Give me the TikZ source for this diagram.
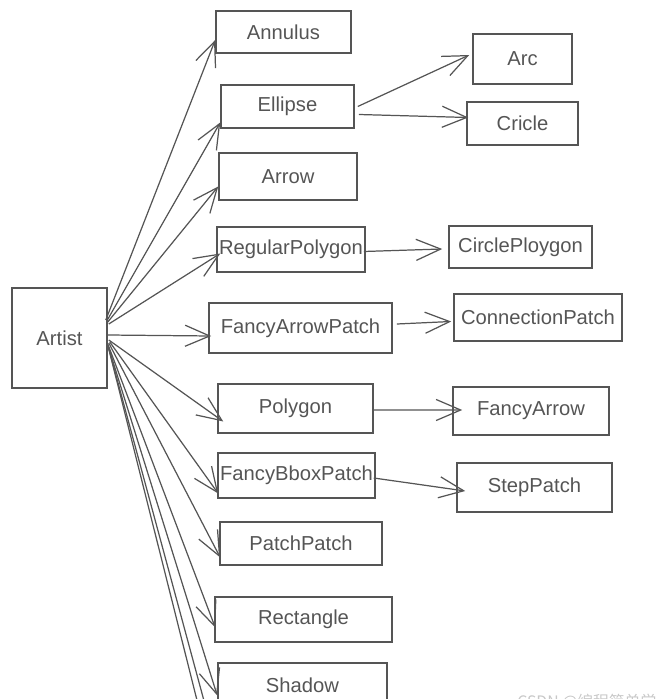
\documentclass[tikz,border=0pt]{standalone}
\usepackage{fontspec}
\setmainfont{Liberation Sans}
\newfontfamily\cjkfont{Noto Sans CJK SC}
\usetikzlibrary{calc,arrows.meta}

\definecolor{inkgray}{HTML}{555555}
\definecolor{markgray}{HTML}{C8C8C8}

\tikzset{
  cls/.style={draw=inkgray, line width=0.9pt, text=inkgray, inner sep=0pt,
    font=\fontsize{11.5}{13}\selectfont},
  herit/.style={draw=inkgray, line width=0.7pt,
    -{Straight Barb[length=14pt,width=12pt,line width=0.7pt]}},
}

\begin{document}
\begin{tikzpicture}[x=0.02cm, y=-0.02cm]
  \clip (0,0) rectangle (668,699);

      % BASE
      \node[cls, minimum width=1.9cm, minimum height=2cm] (artist) at (59.5,338) {Artist};

      % COLONNE GAUCHE
      \node[cls, minimum width=2.7cm, minimum height=0.84cm] (annulus) at (283.5,32) {Annulus};
      \node[cls, minimum width=2.66cm, minimum height=0.86cm] (ellipse) at (287.5,106.5) {Ellipse};
      \node[cls, minimum width=2.76cm, minimum height=0.94cm] (arrow) at (288,176.5) {Arrow};
      \node[cls, minimum width=2.96cm, minimum height=0.9cm] (regpoly) at (291,249.5) {RegularPolygon};
      \node[cls, minimum width=3.66cm, minimum height=1cm] (fancyarrowpatch) at (300.5,328) {FancyArrowPatch};
      \node[cls, minimum width=3.1cm, minimum height=0.98cm] (polygon) at (295.5,408.5) {Polygon};
      \node[cls, minimum width=3.14cm, minimum height=0.9cm] (fancybbox) at (296.5,475.5) {FancyBboxPatch};
      \node[cls, minimum width=3.24cm, minimum height=0.86cm] (patchpatch) at (301,543.5) {PatchPatch};
      \node[cls, minimum width=3.54cm, minimum height=0.9cm] (rectangle) at (303.5,619.5) {Rectangle};
      \node[cls, minimum width=3.38cm, minimum height=0.9cm] (shadow) at (302.5,685.5) {Shadow};

      % COLONNE DROITE
      \node[cls, minimum width=1.98cm, minimum height=1cm] (arc) at (522.5,59) {Arc};
      \node[cls, minimum width=2.22cm, minimum height=0.86cm] (cricle) at (522.5,123.5) {Cricle};
      \node[cls, minimum width=2.86cm, minimum height=0.84cm] (circlepoly) at (520.5,247) {CirclePloygon};
      \node[cls, minimum width=3.36cm, minimum height=0.94cm] (connpatch) at (538,317.5) {ConnectionPatch};
      \node[cls, minimum width=3.12cm, minimum height=0.96cm] (fancyarrow) at (531,411) {FancyArrow};
      \node[cls, minimum width=3.1cm, minimum height=0.98cm] (steppatch) at (534.5,487.5) {StepPatch};

      % SUITE HORS CADRE
      \coordinate (more1) at (212,760);
      \coordinate (more2) at (220,760);

      % FLECHES DEPUIS ARTIST
      \draw[herit] ($(artist.east)+(-2,-18)$) -- ($(annulus.west)+(0,8)$);
      \draw[herit] ($(artist.east)+(-1,-17)$) -- ($(ellipse.west)+(0,16)$);
      \draw[herit] ($(artist.east)+(0,-16)$) -- ($(arrow.west)+(0,10)$);
      \draw[herit] ($(artist.east)+(1,-14)$) -- ($(regpoly.west)+(4,4)$);
      \draw[herit] ($(artist.east)+(0,-3)$) -- ($(fancyarrowpatch.west)+(3,8)$);
      \draw[herit] ($(artist.east)+(1,2)$) -- ($(polygon.west)+(6,13)$);
      \draw[herit] ($(artist.east)+(2,4)$) -- ($(fancybbox.west)+(1,18)$);
      \draw[herit] ($(artist.east)+(1,5)$) -- ($(patchpatch.west)+(1,14)$);
      \draw[herit] ($(artist.east)+(0,6)$) -- ($(rectangle.west)+(1,8)$);
      \draw[herit] ($(artist.east)+(0,7)$) -- ($(shadow.west)+(0,10)$);
      \draw[inkgray, line width=0.7pt] ($(artist.east)+(0,7)$) -- (more1);
      \draw[inkgray, line width=0.7pt] ($(artist.east)+(0,7)$) -- (more2);

      % FLECHES VERS LA DROITE
      \draw[herit] ($(ellipse.east)+(3,0)$) -- ($(arc.west)+(-3,-4)$);
      \draw[herit] ($(ellipse.east)+(4,8)$) -- ($(cricle.west)+(2,-6)$);
      \draw[herit] ($(regpoly.east)+(-2,2)$) -- ($(circlepoly.west)+(-6,2)$);
      \draw[herit] ($(fancyarrowpatch.east)+(4,-4)$) -- ($(connpatch.west)+(-2,4)$);
      \draw[herit] ($(polygon.east)+(0,1.5)$) -- ($(fancyarrow.west)+(10,-1)$);
      \draw[herit] ($(fancybbox.east)+(-2,2.5)$) -- ($(steppatch.west)+(9,3.5)$);

      % FILIGRANE
      \node[anchor=north west, inner sep=0pt, text=markgray, font=\cjkfont\fontsize{9}{10}\selectfont]
        (mark) at (517,694) {CSDN @编程简单学};
\end{tikzpicture}
\end{document}
